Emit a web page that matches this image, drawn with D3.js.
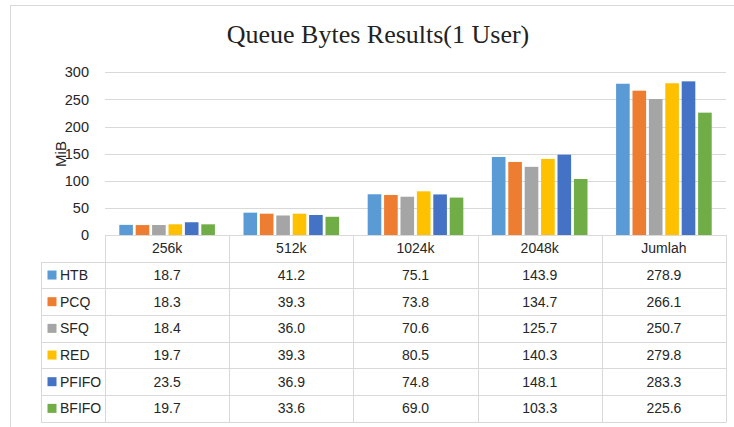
<!DOCTYPE html>
<html><head><meta charset="utf-8">
<script src="https://cdn.jsdelivr.net/npm/d3@7"></script>
<style>
html,body{margin:0;padding:0;background:#fff;}
svg{display:block;}
</style></head>
<body>
<svg id="chart" width="734" height="427"></svg>
<script>
const categories = ["256k", "512k", "1024k", "2048k", "Jumlah"];
const seriesNames = ["HTB", "PCQ", "SFQ", "RED", "PFIFO", "BFIFO"];
const HTB   = [18.7, 41.2, 75.1, 143.9, 278.9];
const PCQ   = [18.3, 39.3, 73.8, 134.7, 266.1];
const SFQ   = [18.4, 36.0, 70.6, 125.7, 250.7];
const RED   = [19.7, 39.3, 80.5, 140.3, 279.8];
const PFIFO = [23.5, 36.9, 74.8, 148.1, 283.3];
const BFIFO = [19.7, 33.6, 69.0, 103.3, 225.6];
const yTicks = [0, 50, 100, 150, 200, 250, 300];
const colors = ["#5B9BD5", "#ED7D31", "#A5A5A5", "#FFC000", "#4472C4", "#70AD47"];
const title = "Queue Bytes Results(1 User)";
const yLabel = "MiB";

const seriesValues = [HTB, PCQ, SFQ, RED, PFIFO, BFIFO];

const svg = d3.select("#chart");
const font = "'Liberation Sans', Arial, sans-serif";
const gridColor = "#d9d9d9";
const textColor = "#262626";

// outer frame
svg.append("rect").attr("x", 10.5).attr("y", 5.5).attr("width", 740).attr("height", 440)
  .attr("fill", "none").attr("stroke", "#d9d9d9").attr("stroke-width", 1);

// title
svg.append("text").attr("x", 378).attr("y", 43).attr("text-anchor", "middle")
  .attr("font-family", "'Liberation Serif', 'Times New Roman', serif").attr("font-size", 26)
  .attr("fill", "#222").text(title);

const plotLeft = 105, plotRight = 726, y0 = 235, yTop = 72.3;
const y = d3.scaleLinear().domain([0, 300]).range([y0, yTop]);
const x0 = d3.scaleBand().domain(categories).range([plotLeft, plotRight]).padding(0);
const cw = x0.bandwidth();
const x1 = d3.scaleBand().domain(seriesNames).range([cw * 0.115, cw * 0.885]).paddingInner(0.17);

// gridlines
svg.append("g").selectAll("line").data(yTicks.filter(d => d > 0)).join("line")
  .attr("x1", plotLeft).attr("x2", plotRight)
  .attr("y1", d => Math.round(y(d)) + 0.5).attr("y2", d => Math.round(y(d)) + 0.5)
  .attr("stroke", gridColor).attr("stroke-width", 1);

// y axis labels
const yAxis = d3.axisLeft(y).tickValues(yTicks).tickSize(0).tickPadding(0);
const ga = svg.append("g").attr("transform", `translate(89,0)`).call(yAxis);
ga.select(".domain").remove();
ga.selectAll("text").attr("font-family", font).attr("font-size", 14.5).attr("fill", textColor);

// y label
svg.append("text").attr("transform", "translate(66,154) rotate(-90)")
  .attr("text-anchor", "middle").attr("font-family", font).attr("font-size", 15)
  .attr("fill", textColor).text(yLabel);

// bars
const groups = svg.append("g").selectAll("g").data(categories).join("g")
  .attr("transform", d => `translate(${x0(d)},0)`);
groups.selectAll("rect").data((c, ci) => seriesNames.map((s, si) => ({ s, si, v: seriesValues[si][ci] })))
  .join("rect")
  .attr("x", d => x1(d.s)).attr("width", x1.bandwidth())
  .attr("y", d => y(d.v)).attr("height", d => y0 - y(d.v))
  .attr("fill", d => colors[d.si]);

// data table
const tableTop = y0, headerBottom = 261.7, tableBottom = 421.7, legendLeft = 41;
const rows = d3.scaleBand().domain(seriesNames).range([headerBottom, tableBottom]);
const tg = svg.append("g");
tg.append("line").attr("x1", plotLeft).attr("x2", plotRight).attr("y1", tableTop + 0.5).attr("y2", tableTop + 0.5)
  .attr("stroke", gridColor);
const hLines = [headerBottom, ...seriesNames.map(s => rows(s) + rows.bandwidth())];
tg.selectAll("line.h").data(hLines).join("line").attr("class", "h")
  .attr("x1", legendLeft).attr("x2", plotRight)
  .attr("y1", d => Math.round(d) + 0.5).attr("y2", d => Math.round(d) + 0.5)
  .attr("stroke", gridColor);
const vLines = categories.map(c => x0(c)).concat([plotRight]);
tg.selectAll("line.v").data(vLines).join("line").attr("class", "v")
  .attr("x1", d => Math.round(d) + 0.5).attr("x2", d => Math.round(d) + 0.5)
  .attr("y1", tableTop).attr("y2", Math.round(tableBottom) + 0.5)
  .attr("stroke", gridColor);
tg.append("line").attr("x1", legendLeft + 0.5).attr("x2", legendLeft + 0.5)
  .attr("y1", Math.round(headerBottom)).attr("y2", Math.round(tableBottom) + 0.5).attr("stroke", gridColor);

// header labels
tg.selectAll("text.hdr").data(categories).join("text").attr("class", "hdr")
  .attr("x", d => x0(d) + cw / 2).attr("y", (tableTop + headerBottom) / 2)
  .attr("dy", "0.36em").attr("text-anchor", "middle")
  .attr("font-family", font).attr("font-size", 14).attr("fill", textColor).text(d => d);

// legend keys and names
const lg = tg.selectAll("g.row").data(seriesNames).join("g").attr("class", "row")
  .attr("transform", d => `translate(0,${rows(d) + rows.bandwidth() / 2})`);
lg.append("rect").attr("x", 47.5).attr("y", -4.5).attr("width", 9).attr("height", 9)
  .attr("fill", (d, i) => colors[i]);
lg.append("text").attr("x", 60).attr("dy", "0.36em")
  .attr("font-family", font).attr("font-size", 14).attr("fill", textColor).text(d => d);
lg.each(function (s, si) {
  d3.select(this).selectAll("text.val").data(categories).join("text").attr("class", "val")
    .attr("x", c => x0(c) + cw / 2).attr("dy", "0.36em").attr("text-anchor", "middle")
    .attr("font-family", font).attr("font-size", 14).attr("fill", textColor)
    .text((c, ci) => seriesValues[si][ci].toFixed(1));
});
</script>
</body></html>
